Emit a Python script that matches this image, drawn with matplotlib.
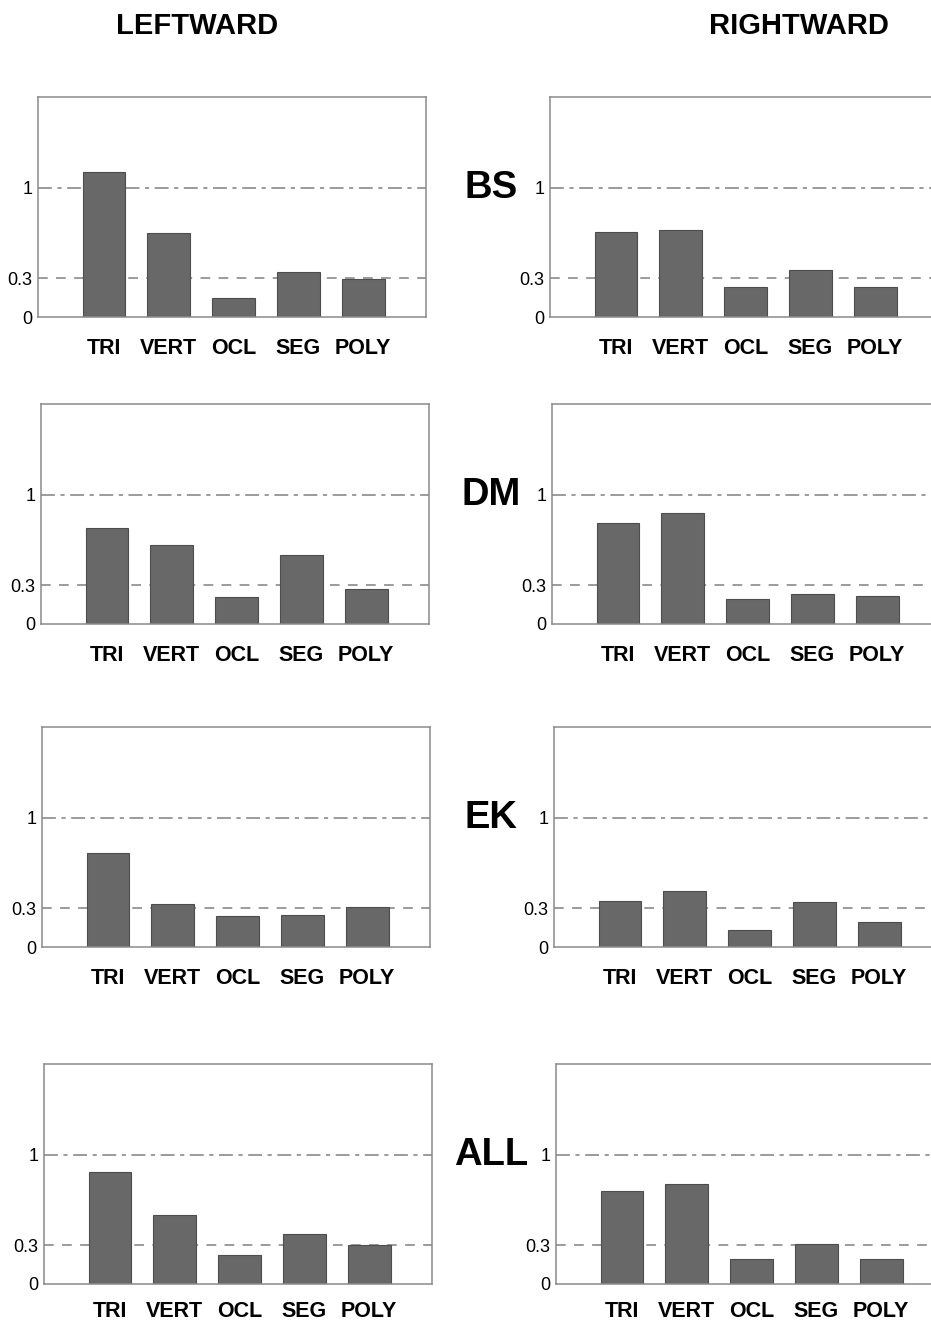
import matplotlib
matplotlib.use('Agg')
import matplotlib.pyplot as plt
import matplotlib.transforms as mtransforms

plt.rcParams['font.family'] = ['Liberation Sans', 'DejaVu Sans']
plt.rcParams['lines.scale_dashes'] = False

# categories and subjects
categories = ['TRI', 'VERT', 'OCL', 'SEG', 'POLY']
subjects = ['BS', 'DM', 'EK', 'ALL']

# leftward values
leftward_bs = [1.12, 0.65, 0.15, 0.35, 0.29]
leftward_dm = [0.74, 0.61, 0.21, 0.53, 0.27]
leftward_ek = [0.73, 0.33, 0.24, 0.245, 0.31]
leftward_all = [0.865, 0.535, 0.225, 0.385, 0.305]

# rightward values
rightward_bs = [0.66, 0.67, 0.23, 0.36, 0.23]
rightward_dm = [0.78, 0.86, 0.19, 0.235, 0.22]
rightward_ek = [0.355, 0.435, 0.135, 0.345, 0.195]
rightward_all = [0.72, 0.775, 0.195, 0.31, 0.195]

ytick_vals = [0, 0.3, 1]
ytick_labels = ['0', '0.3', '1']

leftward = [leftward_bs, leftward_dm, leftward_ek, leftward_all]
rightward = [rightward_bs, rightward_dm, rightward_ek, rightward_all]

# figure layout in pixels (dpi 100)
W, H = 931, 1323
fig = plt.figure(figsize=(W / 100, H / 100), dpi=100)

row_top = [97, 404, 727, 1064]
left_x = [38, 41, 42, 44]
right_x = [550, 552, 554, 556]
label_pad = [15, 15, 15, 12]
ax_w, ax_h = 388, 220

line_col = '#8a8a8a'
bar_col = '#686868'
edge_col = '#4d4d4d'


def draw_panel(ax, values, pad):
    x = list(range(len(categories)))
    ax.axhline(1, color=line_col, lw=1.2, dashes=(10, 4, 3, 4), zorder=1)
    ax.axhline(0.3, color=line_col, lw=1.2, dashes=(7, 6), zorder=1)
    ax.bar(x, values, width=0.66, color=bar_col, edgecolor=edge_col,
           linewidth=0.8, zorder=2)
    ax.set_xlim(-1.02, 4.97)
    ax.set_ylim(0, 1.7)
    ax.set_yticks(ytick_vals)
    ax.set_yticklabels(ytick_labels, fontsize=13)
    ax.set_xticks(x)
    ax.set_xticklabels(categories, fontsize=15.5, fontweight='bold')
    ax.tick_params(axis='x', length=0, pad=pad)
    ax.tick_params(axis='y', length=0, pad=4)
    for s in ax.spines.values():
        s.set_color('#8a8a8a')
        s.set_linewidth(1.1)


for i in range(4):
    y0 = 1 - (row_top[i] + ax_h) / H
    axl = fig.add_axes([left_x[i] / W, y0, ax_w / W, ax_h / H])
    draw_panel(axl, leftward[i], label_pad[i])
    axr = fig.add_axes([right_x[i] / W, y0, ax_w / W, ax_h / H])
    draw_panel(axr, rightward[i], label_pad[i])

    # subject label next to the 1 line of the right panel
    trans = mtransforms.blended_transform_factory(fig.transFigure, axr.transData)
    fig.text(491 / W, 1.0, subjects[i], transform=trans, ha='center',
             va='center', fontsize=27.5, fontweight='bold')

fig.text(197 / W, 1 - 26 / H, 'LEFTWARD', ha='center', va='center',
         fontsize=21, fontweight='bold')
fig.text(799 / W, 1 - 26 / H, 'RIGHTWARD', ha='center', va='center',
         fontsize=21, fontweight='bold')

fig.savefig('out.png', dpi=100)
